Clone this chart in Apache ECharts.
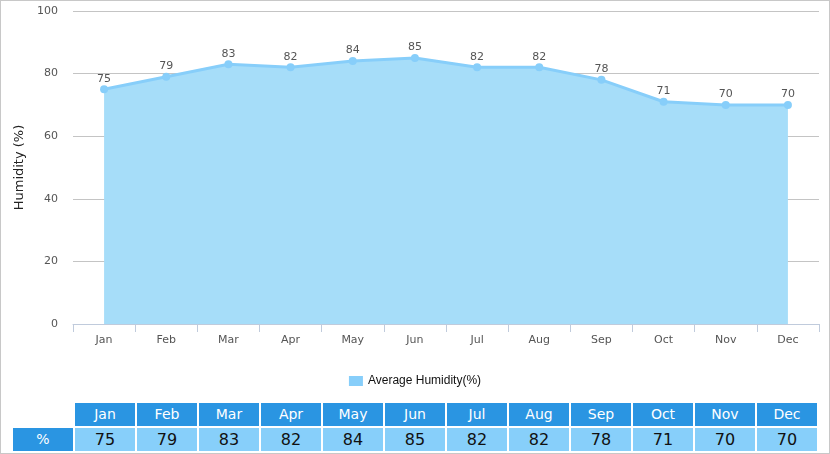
<!DOCTYPE html>
<html>
<head>
<meta charset="utf-8">
<script src="https://cdn.jsdelivr.net/npm/echarts@6/dist/echarts.min.js"></script>
<style>
  html, body { margin: 0; padding: 0; background: #fff; }
  #wrap { position: relative; width: 830px; height: 454px; box-sizing: border-box; border: 1px solid #c8c8c8; overflow: hidden; }
  #chart { position: absolute; left: -1px; top: -1px; width: 830px; height: 400px; }
  .cell { position: absolute; box-sizing: border-box; text-align: center; font-family: "DejaVu Sans", Verdana, sans-serif; }
  .hd { background: #2a95e2; color: #fff; font-size: 14px; line-height: 23px; height: 23px; }
  .dt { background: #87cffa; color: #111; font-size: 16px; line-height: 23px; height: 23px; }
</style>
</head>
<body>
<div id="wrap">
  <div id="chart"></div>
  <div id="table"></div>
</div>
<script>
const months = ['Jan','Feb','Mar','Apr','May','Jun','Jul','Aug','Sep','Oct','Nov','Dec'];
const humidity = [75, 79, 83, 82, 84, 85, 82, 82, 78, 71, 70, 70];
const yTicks = [0, 20, 40, 60, 80, 100];
const seriesName = 'Average Humidity(%)';
const yAxisTitle = 'Humidity (%)';
const rowLabel = '%';

const chart = echarts.init(document.getElementById('chart'));
chart.setOption({
  animation: false,
  grid: { left: 73, right: 11, top: 11, bottom: 76 },
  legend: {
    data: [{ name: seriesName, icon: 'rect' }],
    top: 370,
    left: 'center',
    itemWidth: 14,
    itemHeight: 10,
    itemGap: 5,
    textStyle: { color: '#111', fontFamily: 'Liberation Sans, Arial', fontSize: 12 }
  },
  xAxis: {
    type: 'category',
    data: months,
    boundaryGap: true,
    axisLine: { lineStyle: { color: '#c0cbdc' } },
    axisTick: { show: true, length: 8, lineStyle: { color: '#c0cbdc' } },
    axisLabel: { color: '#555', fontSize: 11, margin: 11, fontFamily: 'DejaVu Sans, Verdana' }
  },
  yAxis: {
    type: 'value',
    min: yTicks[0],
    max: yTicks[yTicks.length - 1],
    interval: 20,
    name: yAxisTitle,
    nameLocation: 'middle',
    nameGap: 44,
    nameTextStyle: { color: '#222', fontSize: 13, fontFamily: 'DejaVu Sans, Verdana' },
    axisLine: { show: false },
    axisTick: { show: false },
    axisLabel: { color: '#555', fontSize: 11, margin: 15, fontFamily: 'DejaVu Sans, Verdana' },
    splitLine: { lineStyle: { color: '#c4c4c4' } }
  },
  series: [{
    name: seriesName,
    type: 'line',
    data: humidity,
    symbol: 'circle',
    symbolSize: 8,
    lineStyle: { color: '#87cefa', width: 3 },
    itemStyle: { color: '#87cefa' },
    areaStyle: { color: '#a6ddf9', opacity: 1 },
    label: { show: true, position: 'top', distance: 1, color: '#555', fontSize: 11, fontFamily: 'DejaVu Sans, Verdana' }
  }]
});

// data table beneath the chart
const table = document.getElementById('table');
function addCell(cls, text, left, top, width) {
  const d = document.createElement('div');
  d.className = 'cell ' + cls;
  d.style.left = (left - 1) + 'px';
  d.style.top = (top - 1) + 'px';
  d.style.width = width + 'px';
  d.textContent = text;
  table.appendChild(d);
}
addCell('hd', rowLabel, 13, 428, 60);
months.forEach((m, i) => {
  addCell('hd', m, 75 + i * 62, 403, 60);
  addCell('dt', String(humidity[i]), 75 + i * 62, 428, 60);
});
</script>
</body>
</html>
